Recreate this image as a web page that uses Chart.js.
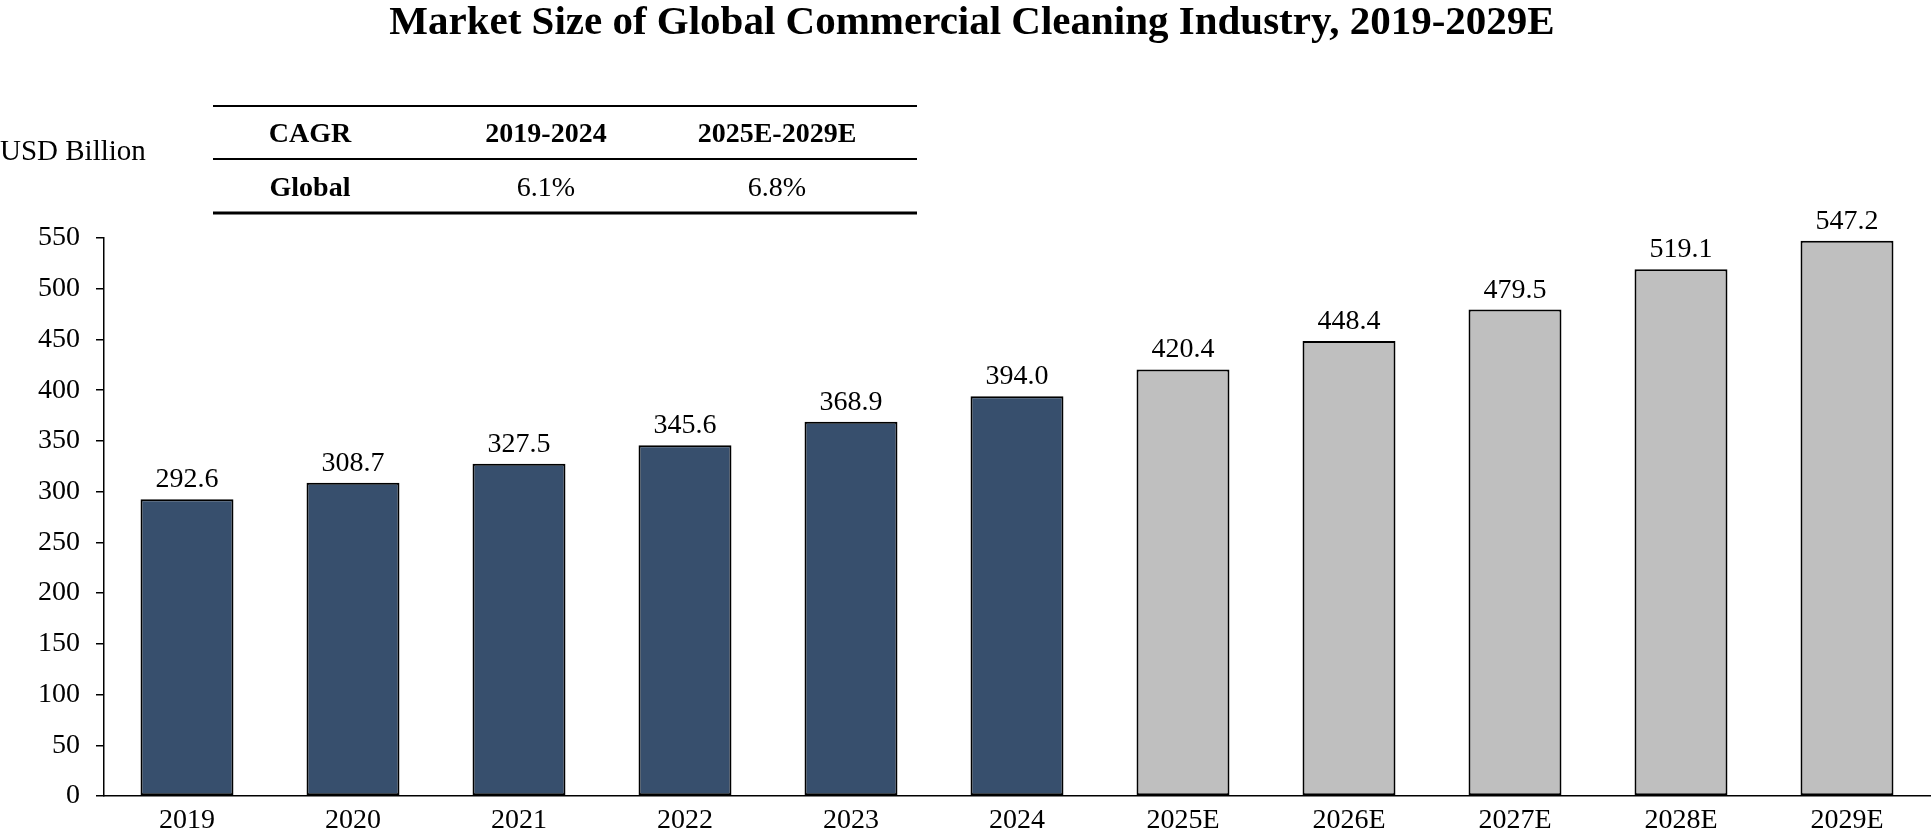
<!DOCTYPE html>
<html>
<head>
<meta charset="utf-8">
<title>Market Size of Global Commercial Cleaning Industry</title>
<script src="https://cdn.jsdelivr.net/npm/chart.js@4.4.1/dist/chart.umd.min.js"></script>
<style>
  html, body { margin: 0; padding: 0; background: #ffffff; }
  #marketChart { display: block; }
</style>
</head>
<body>
<canvas id="marketChart" width="1931" height="839"></canvas>
<script>
// Data
var years = ["2019", "2020", "2021", "2022", "2023", "2024", "2025E", "2026E", "2027E", "2028E", "2029E"];
var marketSize = [292.6, 308.7, 327.5, 345.6, 368.9, 394.0, 420.4, 448.4, 479.5, 519.1, 547.2];
var isForecast = [false, false, false, false, false, false, true, true, true, true, true];
var yTicks = [0, 50, 100, 150, 200, 250, 300, 350, 400, 450, 500, 550];

// CAGR table
var cagrHeader = ["CAGR", "2019-2024", "2025E-2029E"];
var cagrRow = ["Global", "6.1%", "6.8%"];

var SERIF = "'Liberation Serif', 'Times New Roman', serif";
var ACTUAL_COLOR = "#374F6D";
var FORECAST_COLOR = "#BFBFBF";

// title, unit label and CAGR table
var headerPlugin = {
  id: "headerPlugin",
  afterDraw: function (chart) {
    var ctx = chart.ctx;
    ctx.save();
    ctx.fillStyle = "#000";
    ctx.textBaseline = "middle";

    ctx.font = "bold 41px " + SERIF;
    ctx.textAlign = "center";
    ctx.fillText("Market Size of Global Commercial Cleaning Industry, 2019-2029E", 972, 23);

    ctx.font = "29px " + SERIF;
    ctx.textAlign = "left";
    ctx.fillText("USD Billion", 0, 152);

    // table rules
    ctx.strokeStyle = "#000";
    ctx.lineWidth = 2;
    ctx.beginPath();
    ctx.moveTo(213, 106); ctx.lineTo(917, 106);
    ctx.moveTo(213, 159); ctx.lineTo(917, 159);
    ctx.stroke();
    ctx.lineWidth = 3;
    ctx.beginPath();
    ctx.moveTo(213, 213); ctx.lineTo(917, 213);
    ctx.stroke();

    var colX = [310, 546, 777];
    ctx.textAlign = "center";
    for (var i = 0; i < cagrHeader.length; i++) {
      ctx.font = "bold 28px " + SERIF;
      ctx.fillText(cagrHeader[i], colX[i], 135);
      ctx.font = (i === 0 ? "bold " : "") + "28px " + SERIF;
      ctx.fillText(cagrRow[i], colX[i], 189);
    }
    ctx.restore();
  }
};

// value labels above bars
var valueLabels = {
  id: "valueLabels",
  afterDatasetsDraw: function (chart) {
    var ctx = chart.ctx;
    var meta = chart.getDatasetMeta(0);
    ctx.save();
    ctx.font = "28px " + SERIF;
    ctx.fillStyle = "#000";
    ctx.textAlign = "center";
    ctx.textBaseline = "alphabetic";
    meta.data.forEach(function (bar, i) {
      ctx.fillText(marketSize[i].toFixed(1), bar.x, bar.y - 12);
    });
    ctx.restore();
  }
};

var ctxMarket = document.getElementById("marketChart").getContext("2d");
new Chart(ctxMarket, {
  type: "bar",
  data: {
    labels: years,
    datasets: [
      {
        label: "Market Size",
        data: marketSize,
        backgroundColor: isForecast.map(function (f) { return f ? FORECAST_COLOR : ACTUAL_COLOR; }),
        borderColor: "#000",
        borderWidth: 2,
        borderSkipped: false,
        categoryPercentage: 1.0,
        barPercentage: 0.56
      }
    ]
  },
  options: {
    responsive: false,
    animation: false,
    devicePixelRatio: 1,
    layout: {
      padding: { top: 238, left: 0, right: 1, bottom: 1 }
    },
    plugins: {
      legend: { display: false },
      tooltip: { enabled: false },
      title: { display: false }
    },
    scales: {
      x: {
        afterFit: function (scale) { scale.height = 42; },
        grid: { display: false, drawTicks: false },
        border: { display: true, color: "#000", width: 1.5 },
        ticks: {
          color: "#000",
          padding: 8,
          font: { family: SERIF, size: 28 }
        }
      },
      y: {
        min: 0,
        max: 550,
        afterFit: function (scale) { scale.width = 104; },
        afterBuildTicks: function (scale) {
          scale.ticks = yTicks.map(function (v) { return { value: v }; });
        },
        grid: {
          display: true,
          drawOnChartArea: false,
          drawTicks: true,
          tickLength: 8,
          color: "#000",
          lineWidth: 1.5
        },
        border: { display: true, color: "#000", width: 1.5 },
        ticks: {
          color: "#000",
          padding: 16,
          font: { family: SERIF, size: 28 }
        }
      }
    }
  },
  plugins: [headerPlugin, valueLabels]
});
</script>
</body>
</html>
